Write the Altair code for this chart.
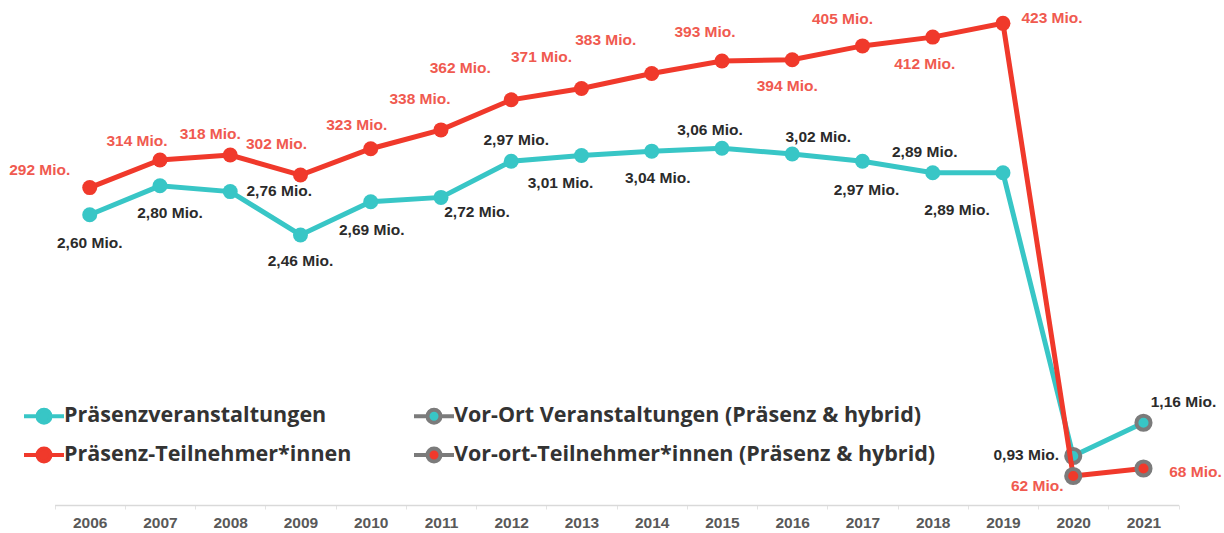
import altair as alt
import pandas as pd

# ---------------- data ----------------
years = [str(y) for y in range(2006, 2022)]
events = [2.60, 2.80, 2.76, 2.46, 2.69, 2.72, 2.97, 3.01, 3.04, 3.06, 3.02, 2.97, 2.89, 2.89, 0.93, 1.16]
attendees = [292, 314, 318, 302, 323, 338, 362, 371, 383, 393, 394, 405, 412, 423, 62, 68]

names = [
    "Präsenzveranstaltungen",
    "Vor-Ort Veranstaltungen (Präsenz & hybrid)",
    "Präsenz-Teilnehmer*innen",
    "Vor-ort-Teilnehmer*innen (Präsenz & hybrid)",
]
ev_series = [names[0]] * 14 + [names[1]] * 2
at_series = [names[2]] * 14 + [names[3]] * 2

# label offsets (pixels) relative to each point
ev_dx = [0, 10, 49, 0, 1, 36, 5, -21, 6, -12, 26, 4, -8, -46, -47, 40]
ev_dy = [28, 27, -1, 26, 28, 15, -21, 28, 27, -18, -17, 29, -21, 37, -1, -21]
at_dx = [-50, -23, -20, -24, -14, -21, -51, -40, -46, -17, -5, -20, -8, 49, -36, 52]
at_dy = [-18, -19, -21, -31, -24, -31, -32, -32, -33, -29, 26, -27, 27, -5, 10, 3]

TEAL = "#38C6C6"
RED = "#F0392B"
RED_LABEL = "#F05A50"
GRAY = "#7B7B7B"
DARK = "#2B2B2B"

ev_df = pd.DataFrame({
    "year": years,
    "value": events,
    "series": ev_series,
    "label": [f"{v:.2f}".replace(".", ",") + " Mio." for v in events],
})
at_df = pd.DataFrame({
    "year": years,
    "value": attendees,
    "series": at_series,
    "label": [f"{v} Mio." for v in attendees],
})

# legend fills column by column: order so rows read (events | events vor-ort), (attendees | attendees vor-ort)
legend_order = [names[0], names[2], names[1], names[3]]
fill_range = [TEAL, RED, TEAL, RED]
stroke_range = [TEAL, RED, GRAY, GRAY]

sym_path = ("M-2,0L-0.65,0M0.65,0L2,0"
            "M0.65,0A0.65,0.65,0,1,1,-0.65,0A0.65,0.65,0,1,1,0.65,0")
legend = alt.Legend(
    orient="none", legendX=32, legendY=404, columns=2, title=None,
    symbolType=sym_path, symbolSize=400, symbolStrokeWidth=4,
    labelFont="Open Sans", labelFontSize=21.5, labelFontWeight="bold",
    labelColor="#333333", labelLimit=0, labelOffset=8,
    columnPadding=54, rowPadding=9, padding=0,
)
fill_enc = alt.Fill("series:N", scale=alt.Scale(domain=legend_order, range=fill_range), legend=legend)
stroke_enc = alt.Stroke("series:N", scale=alt.Scale(domain=legend_order, range=stroke_range), legend=legend)

x_enc = alt.X(
    "year:O",
    scale=alt.Scale(range=[54.6, 1178.6], paddingInner=0, paddingOuter=0),
    axis=alt.Axis(
        title=None, labelAngle=0, labelFont="Liberation Sans", labelFontSize=15.5,
        labelFontWeight="bold", labelColor="#595959", labelPadding=6,
        domainColor="#D9D9D9", domainWidth=1.5, tickColor="#E3E3E3", tickSize=4,
        tickBand="extent", grid=False,
    ),
)


def metric_layer(df, domain, line_color, label_color, dxs, dys):
    y_enc = alt.Y("value:Q", scale=alt.Scale(domain=domain, nice=False, zero=False), axis=None)
    base = alt.Chart(df)
    line = base.mark_line(color=line_color, strokeWidth=5).encode(x=x_enc, y=y_enc)
    regular = base.transform_filter("toNumber(datum.year) < 2020").mark_point(
        filled=True, size=225, opacity=1, strokeWidth=0
    ).encode(x=x_enc, y=y_enc, fill=fill_enc, stroke=stroke_enc)
    special = base.transform_filter("toNumber(datum.year) >= 2020").mark_point(
        filled=True, size=200, opacity=1, strokeWidth=4
    ).encode(x=x_enc, y=y_enc, fill=fill_enc, stroke=stroke_enc)
    texts = []
    for i, yr in enumerate(years):
        texts.append(
            base.transform_filter(alt.datum.year == yr).mark_text(
                dx=dxs[i], dy=dys[i], align="center", baseline="middle",
                font="Liberation Sans", fontSize=15.5, fontWeight="bold", color=label_color,
            ).encode(x=x_enc, y=y_enc, text="label:N")
        )
    return alt.layer(line, regular, special, *texts)


ev_layer = metric_layer(ev_df, [0.591, 4.086], TEAL, DARK, ev_dx, ev_dy)
at_layer = metric_layer(at_df, [38.9, 441.6], RED, RED_LABEL, at_dx, at_dy)

chart = (
    alt.layer(ev_layer, at_layer)
    .resolve_scale(y="independent")
    .properties(
        width=1224, height=505,
        padding={"left": 0, "top": 0, "right": 0, "bottom": 28},
        autosize=alt.AutoSizeParams(type="none"),
        background="white",
    )
    .configure_view(stroke=None)
)

chart.save("out.html", embed_options={"renderer": "svg", "actions": False})
